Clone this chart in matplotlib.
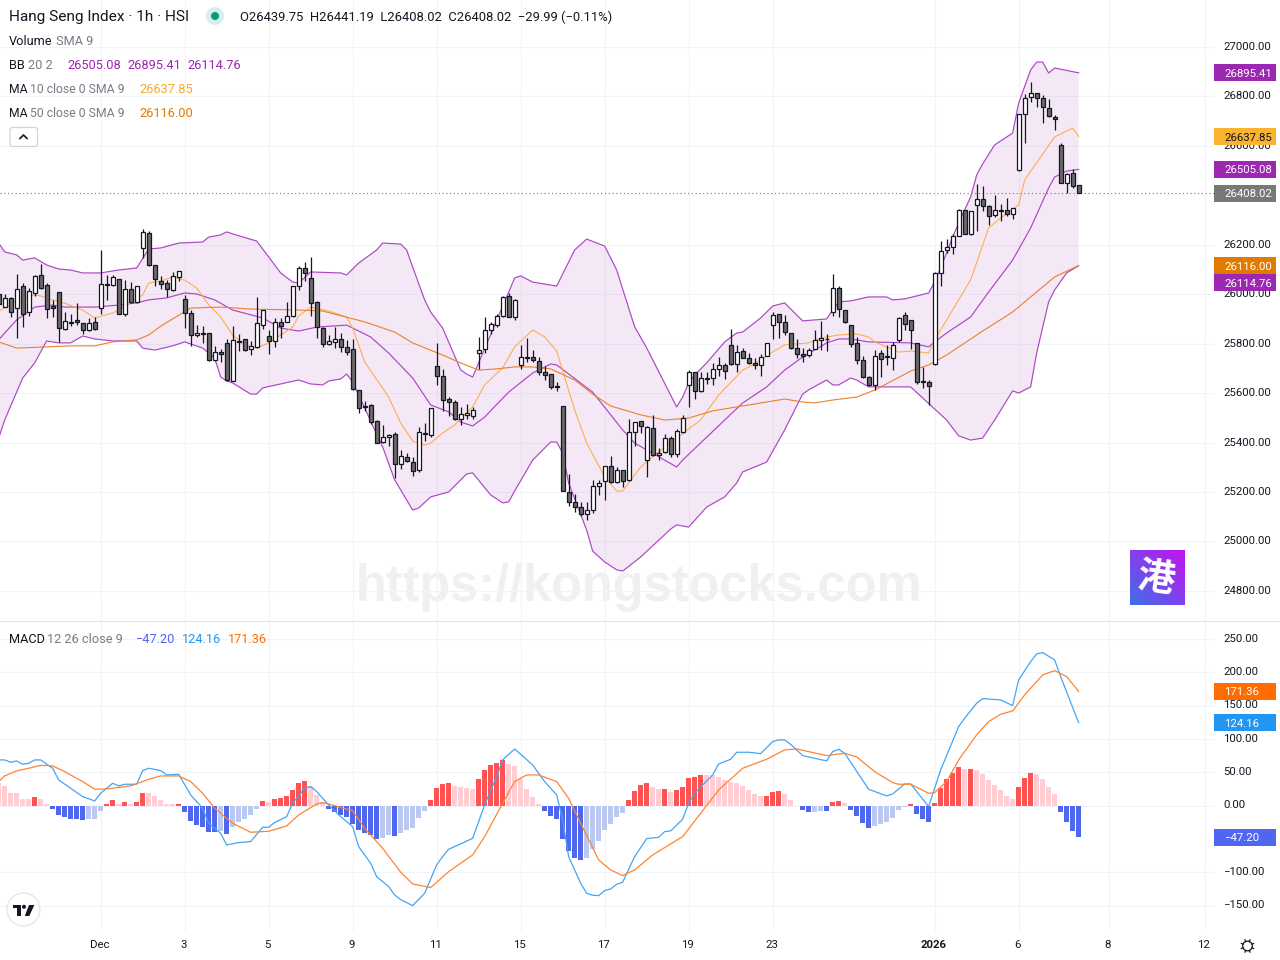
import matplotlib
matplotlib.use("Agg")
import matplotlib.pyplot as plt
import numpy as np
from matplotlib.patches import Rectangle, Circle, FancyBboxPatch, Polygon
from matplotlib.lines import Line2D
from matplotlib.transforms import Affine2D

# ---------- data ----------
opens = [
26000,25950,25983,25943,26032,25929,26003,26076,26036,25951,
26007,25861,25889,25894,25885,25857,25886,25943,26041,26038,
26060,25919,26020,25967,26185,26246,26117,26052,26044,26016,
26068,25979,25923,25834,25842,25842,25732,25765,25801,25648,
25812,25817,25777,25785,25877,25830,25809,25886,25886,25910,
26032,26105,26064,25967,25862,25797,25806,25818,25785,25777,
25611,25547,25551,25486,25401,25421,25434,25312,25340,25320,
25288,25438,25432,25709,25668,25575,25563,25494,25510,25506,
25761,25777,25854,25874,25911,25992,25907,25715,25745,25745,
25731,25684,25676,25628,25547,25199,25159,25138,25110,25126,
25223,25243,25304,25239,25288,25247,25442,25486,25328,25458,
25349,25361,25417,25353,25442,25632,25684,25607,25661,25660,
25696,25712,25793,25717,25769,25741,25721,25712,25749,25874,
25919,25886,25842,25781,25757,25753,25777,25814,25819,25927,
26024,25935,25874,25801,25732,25664,25634,25761,25750,25741,
25813,25914,25894,25801,25647,25643,25716,26084,26177,26189,
26234,26339,26242,26359,26384,26355,26319,26340,26339,26323,
26501,26727,26796,26812,26792,26752,26718,26602,26448,26489,
26439.75]
highs = [
26017,26001,25987,26080,26044,26024,26078,26121,26044,25976,
26007,25929,25920,25963,25885,25902,25906,26179,26078,26078,
26060,26057,26048,26034,26262,26256,26118,26074,26057,26088,
26094,25997,25936,25875,25871,25842,25790,25778,25819,25871,
25838,25819,25811,25989,25936,25855,25902,25905,25967,26032,
26115,26129,26149,25974,25869,25835,25866,25842,25815,25818,
25613,25567,25555,25491,25470,25434,25444,25370,25357,25340,
25462,25479,25539,25802,25696,25584,25571,25543,25555,25543,
25826,25907,25886,25919,25993,26004,25979,25793,25823,25773,
25745,25709,25678,25644,25547,25273,25192,25159,25161,25249,
25249,25304,25346,25300,25289,25495,25482,25486,25465,25510,
25377,25435,25427,25454,25510,25694,25684,25684,25687,25721,
25745,25721,25858,25793,25781,25761,25741,25757,25801,25927,
25920,25915,25842,25818,25781,25781,25854,25892,25838,26080,
26033,25936,25875,25825,25750,25668,25774,25774,25794,25805,
25906,25927,25894,25804,25704,25653,26088,26215,26223,26243,
26343,26340,26336,26444,26436,26359,26401,26365,26388,26347,
26730,26810,26857,26812,26805,26788,26723,26613,26489,26505,
26441.19]
lows = [
25943,25947,25909,25824,25869,25913,25993,26020,25905,25909,
25808,25855,25871,25875,25839,25851,25855,25919,25976,26033,
25919,25913,25963,25966,26148,26115,26034,26021,25987,26014,
26055,25865,25790,25825,25801,25731,25731,25727,25650,25648,
25772,25772,25755,25781,25861,25758,25788,25824,25886,25909,
26017,26055,25913,25824,25788,25795,25784,25768,25756,25614,
25521,25529,25475,25400,25400,25388,25258,25291,25320,25265,
25280,25408,25424,25634,25527,25509,25491,25471,25494,25497,
25698,25764,25838,25869,25909,25907,25895,25699,25727,25727,
25673,25651,25618,25610,25202,25145,25117,25101,25087,25114,
25188,25168,25238,25238,25222,25246,25384,25437,25262,25346,
25330,25357,25340,25343,25437,25545,25575,25606,25636,25634,
25671,25657,25715,25687,25741,25719,25699,25671,25749,25820,
25824,25836,25780,25743,25727,25745,25777,25773,25769,25913,
25907,25885,25788,25719,25660,25630,25612,25666,25715,25693,
25807,25855,25780,25635,25622,25553,25715,26034,26165,26162,
26234,26242,26238,26255,26338,26278,26313,26297,26317,26305,
26499,26613,26776,26758,26694,26715,26665,26448,26410,26428,
26408.02]
closes = [
25960,25983,25927,26020,25919,26012,26072,26024,25939,25943,
25862,25890,25882,25886,25854,25882,25858,26040,26039,26068,
25919,26020,25967,26032,26250,26117,26060,26040,26020,26072,
26092,25923,25834,25842,25838,25732,25765,25757,25652,25813,
25808,25773,25789,25882,25935,25809,25886,25870,25910,26032,
26105,26085,25963,25866,25797,25810,25818,25785,25765,25615,
25539,25543,25485,25400,25421,25432,25312,25345,25324,25284,
25442,25434,25539,25668,25571,25563,25494,25514,25518,25531,
25773,25854,25878,25911,25988,25907,25975,25745,25740,25733,
25684,25672,25624,25624,25203,25159,25138,25109,25126,25223,
25235,25304,25239,25288,25243,25442,25482,25466,25462,25349,
25357,25417,25353,25446,25498,25684,25607,25660,25659,25696,
25712,25688,25717,25765,25741,25721,25712,25745,25801,25915,
25886,25846,25781,25757,25752,25773,25814,25822,25817,26024,
25939,25886,25797,25732,25664,25631,25749,25737,25748,25793,
25902,25878,25854,25643,25645,25627,26084,26173,26189,26234,
26339,26242,26335,26384,26355,26315,26339,26338,26323,26347,
26727,26792,26812,26792,26756,26719,26707,26448,26487,26436,
26408.02]

upper_idx = [0,1,3,4,6,8,10,12,14,17,20,23,25,27,30,34,35,37,38,39,43,45,47,49,50,52,57,58,60,63,64,67,68,69,71,72,74,77,78,79,80,86,87,89,93,96,98,101,103,106,108,113,114,115,116,118,121,123,124,127,129,131,134,138,139,140,142,145,148,149,151,155,156,158,159,161,162,163,164,166,169,170,172,173,174,175,176,180]
upper_val = [26207,26171,26159,26138,26147,26118,26102,26098,26086,26086,26098,26106,26183,26187,26207,26211,26231,26240,26252,26244,26215,26151,26086,26049,26045,26090,26086,26078,26126,26179,26207,26203,26179,26110,25977,25928,25863,25694,25677,25665,25722,26066,26074,26049,26033,26179,26223,26195,26098,25868,25783,25544,25584,25641,25673,25722,25807,25843,25847,25904,25952,25965,25892,25900,25936,25969,25973,25989,25989,25977,25981,26005,26049,26167,26232,26341,26393,26482,26527,26604,26652,26773,26907,26939,26939,26895,26915,26895.41]
lower_idx = [0,1,4,6,8,10,12,14,16,19,23,24,26,29,31,34,36,37,38,39,42,43,44,50,52,54,55,57,58,59,64,66,69,70,72,75,78,79,82,84,85,86,89,92,93,94,95,98,99,101,103,104,107,109,112,113,115,118,121,123,124,128,131,134,135,138,139,140,142,143,145,152,158,160,162,164,166,169,170,172,173,175,176,178,180]
lower_val = [25418,25491,25661,25722,25811,25803,25803,25831,25819,25811,25811,25782,25774,25791,25807,25782,25742,25665,25649,25641,25596,25596,25621,25653,25637,25633,25649,25657,25677,25645,25382,25249,25127,25135,25180,25200,25273,25277,25188,25156,25160,25204,25329,25402,25402,25358,25236,25046,24961,24917,24885,24880,24937,24982,25050,25067,25058,25139,25180,25236,25281,25321,25451,25596,25613,25653,25633,25633,25661,25653,25625,25625,25491,25427,25410,25418,25491,25609,25600,25625,25762,25969,26017,26086,26114.76]
basis_idx = [0,1,3,6,9,11,16,20,23,25,28,31,33,36,39,44,47,50,53,58,62,65,69,72,75,77,79,81,85,89,92,93,99,104,106,113,114,121,124,128,131,134,138,140,142,145,152,155,156,158,162,165,169,172,175,176,178,180]
basis_val = [25815,25843,25896,25948,25956,25948,25948,25956,25965,25977,25985,26005,26001,25977,25936,25904,25863,25851,25867,25875,25827,25762,25661,25552,25524,25483,25467,25503,25604,25681,25718,25714,25604,25451,25398,25301,25329,25491,25560,25625,25693,25746,25803,25819,25819,25807,25803,25787,25807,25843,25908,26009,26138,26268,26430,26474,26498,26505.08]
ma10_idx = [0,2,3,6,7,9,11,14,16,19,20,24,25,27,29,31,33,35,37,39,41,43,45,49,50,52,55,58,59,61,65,67,69,71,72,74,76,79,81,84,86,89,91,93,96,98,101,103,104,107,110,112,115,117,120,124,126,129,131,135,137,140,143,145,146,150,152,155,156,162,165,167,170,171,176,179,180]
ma10_val = [25932,25957,25977,25997,25993,25977,25964,25936,25904,25924,25936,25997,26045,26053,26070,26057,26025,25957,25908,25835,25795,25782,25803,25867,25912,25948,25932,25908,25863,25726,25584,25479,25406,25390,25398,25439,25471,25544,25633,25702,25787,25855,25827,25770,25532,25398,25261,25204,25204,25301,25362,25398,25455,25491,25592,25693,25718,25766,25795,25803,25823,25835,25839,25827,25807,25766,25770,25762,25815,26058,26268,26308,26361,26462,26636,26672,26637.85]
ma50_idx = [0,3,7,12,16,19,23,25,27,29,32,37,42,50,54,61,66,69,74,77,80,83,86,89,92,96,99,102,107,111,115,119,124,127,131,134,136,139,143,146,152,155,158,164,169,176,180]
ma50_val = [25807,25782,25786,25791,25791,25807,25815,25835,25871,25900,25944,25948,25940,25936,25932,25888,25847,25803,25754,25722,25693,25698,25706,25706,25698,25653,25596,25548,25512,25491,25499,25528,25548,25560,25576,25564,25560,25572,25584,25612,25689,25714,25754,25851,25928,26070,26116.00]

hist = [
34.5,29.5,19,19,10,10,13,10,2.5,-5,
-14,-17,-20,-20.5,-21.5,-20,-20,-8,2.5,8.5,
2.5,5.5,2.5,5.5,19,19,14.5,8.5,2.5,2.5,
3,-9.5,-23,-29,-32,-39.5,-40,-38,-42.5,-32,
-24.5,-20,-14,-5,7,5.5,10,11.5,14.5,23.5,
34,37,29.5,16,5.5,-5,-9.5,-14,-17,-27.5,
-36.5,-41,-44,-50,-48.5,-44,-45.5,-41,-36.5,-33.5,
-18.5,-8,8.5,26.5,32.5,34,29.5,28,26.5,25,
40,53.5,61,64,68.5,62.5,59.5,40,25,13,
2.5,-8,-15.5,-20,-50,-68,-78.5,-81.5,-78.5,-65,
-53,-36.5,-27.5,-17,-11,8.5,22,31,34,28,
25,25.5,20.5,23.5,28,41.5,43,46,46,46,
43,38.5,35.5,34,29.5,23.5,17,14.5,15,20.5,
22,17,8.5,-1,-6.5,-9.5,-9.5,-8,-8.5,5.5,
7,4,-6.5,-15.5,-26,-33.5,-30.5,-27.5,-24.5,-18.5,
-6.5,-2,2.5,-12.5,-20,-24.5,4,26.5,40,49,
58,55,55.5,53.5,47.5,38.5,31,23.5,14.5,10,
28,41.5,49,47.5,40,28,17.5,-9.5,-24.5,-38,
-47.2]
macd_idx = [0,1,2,3,4,5,6,7,9,10,12,14,16,17,19,20,21,23,24,25,27,28,30,32,34,35,37,38,40,42,44,45,46,48,49,51,52,53,55,57,59,60,62,63,65,66,67,69,71,73,74,75,77,79,81,83,84,86,89,91,93,94,95,97,98,99,100,101,102,103,104,106,108,110,111,112,114,115,116,119,120,122,123,125,127,129,130,131,132,134,138,139,140,141,145,148,149,151,152,155,157,160,161,163,164,167,169,170,172,173,174,176,177,180]
macd_val = [68.5,68.5,65,67,62,63.5,68.5,68.5,56,38.5,26,13.5,7,18.5,33.5,29.5,32,32,52.5,56,52.5,46,47,16,-4,-26.5,-41.5,-59,-55.5,-54,-32.5,-32.5,-25.5,-16.5,3.5,26,28.5,21,1,-16.5,-31.5,-61.5,-86.5,-106.5,-121.5,-134,-141,-150,-131.5,-89,-76.5,-65.5,-57.5,-49,1,43.5,68.5,85,61,36,16,-21.5,-76.5,-116.5,-131.5,-134.5,-135,-127.5,-125,-118,-115,-76.5,-49.5,-47.5,-39,-38,-20.5,3.5,18.5,46,62.5,69.5,80,80,78,96,98.5,98.5,92,75,67,81,84.5,78.5,24.5,14.5,17.5,32.5,32.5,-1.5,53.5,118.5,131,153.5,160.5,158.5,150,188.5,216,227.5,229.5,218.5,193.5,124.16]
signal_idx = [0,1,3,5,7,9,11,14,16,18,22,25,27,30,32,34,36,39,42,45,48,50,53,54,56,59,61,64,67,69,72,75,79,81,84,86,88,90,93,95,97,100,102,104,106,109,114,117,120,124,128,131,133,138,141,143,146,149,150,152,155,156,158,160,163,165,167,169,171,174,176,178,180]
signal_val = [36,44.5,52,56,60.5,59.5,51,36,24.5,25,29.5,39.5,44.5,44.5,36,18.5,-4,-26.5,-40,-38.5,-30.5,-14,2.5,4.5,0,-8,-34,-64,-100,-117.5,-123,-99,-74,-46.5,3.5,36,46,46,36,11,-26.5,-81.5,-96.5,-105,-96.5,-74,-46.5,-11.5,23.5,56,69.5,83.5,85,75,78.5,73,51,34.5,32,32,18.5,19.5,36,68.5,106,126,137,142,166,196,202.5,193.5,171.36]

price_ticks = [27000,26800,26600,26200,26000,25800,25600,25400,25200,25000,24800]
macd_ticks = [250,200,150,100,50,0,-100,-150]
time_tick_idx = [17,31,45,59,73,87,101,115,129,156,170,185,201]
time_tick_labels = ["Dec","3","5","9","11","15","17","19","23","2026","6","8","12"]

last_close = 26408.02

# price scale tags: value, text, fill, text colour, pixel shift
price_tags = [
    (26895.41, "26895.41", "#9C27B0", "white", 0),
    (26637.85, "26637.85", "#F9B32F", "#131722", 0),
    (26505.08, "26505.08", "#9C27B0", "white", 0),
    (26408.02, "26408.02", "#787878", "white", 0),
    (26116.00, "26116.00", "#E07B00", "white", 0),
    (26114.76, "26114.76", "#9C27B0", "white", 17),
]
macd_tags = [
    (171.36, "171.36", "#FF6D00", "white"),
    (124.16, "124.16", "#2196F3", "white"),
    (-47.20, "\u221247.20", "#4F66EE", "white"),
]

# ---------- layout ----------
W, H = 1280, 960
PANE_R, MAIN_B, SUB_T, SUB_B = 1214, 621, 622, 931
FONT = "Roboto"
plt.rcParams["font.family"] = [FONT, "DejaVu Sans"]
TXT = "#131722"
GRAY = "#787B86"
GRID = "#F0F3FA"
AXIS_SIZE = 8.2

fig = plt.figure(figsize=(W / 100, H / 100), dpi=100, facecolor="white")
PX = Affine2D().scale(1 / W, -1 / H).translate(0, 1) + fig.transFigure

ax = fig.add_axes([0, 1 - MAIN_B / H, PANE_R / W, MAIN_B / H])
axm = fig.add_axes([0, 1 - SUB_B / H, PANE_R / W, (SUB_B - SUB_T) / H])

xlim = (0.222, 202.56)
for a in (ax, axm):
    a.set_xlim(*xlim)
    a.set_xticks(time_tick_idx)
    a.grid(True, color=GRID, lw=0.8, zorder=0)
    a.set_axisbelow(True)
    for s in a.spines.values():
        s.set_visible(False)
    a.yaxis.tick_right()
    a.tick_params(axis="both", length=0, labelsize=AXIS_SIZE, labelcolor=TXT)
    a.tick_params(axis="y", pad=6.6)
ax.set_ylim(24678.1, 27190.1)
axm.set_ylim(-188.1, 275.4)

ax.set_yticks(price_ticks)
ax.set_yticklabels([f"{v:.2f}" for v in price_ticks])
ax.tick_params(axis="x", labelbottom=False)
axm.set_yticks(macd_ticks)
axm.set_yticklabels([f"{v:.2f}".replace("-", "\u2212") for v in macd_ticks])
axm.set_xticklabels(time_tick_labels)
axm.tick_params(axis="x", pad=6.5)
for lab in axm.get_xticklabels():
    lab.set_transform(lab.get_transform() + Affine2D().translate(-1, 0))
    if lab.get_text() == "2026":
        lab.set_fontweight("bold")
for a, lift in ((ax, 1.0), (axm, 1.3)):
    for lab in a.get_yticklabels():
        lab.set_transform(lab.get_transform() + Affine2D().translate(0, lift))

# watermark
ax.text(639, 587, "https://kongstocks.com", transform=PX, ha="center", va="center",
        family="Liberation Sans", fontweight="bold", fontsize=36.4, color="#F0F0F2", zorder=0.5)

# Bollinger band
poly_x = list(upper_idx) + list(lower_idx)[::-1]
poly_y = list(upper_val) + list(lower_val)[::-1]
ax.fill(poly_x, poly_y, color="#9C27B0", alpha=0.1, lw=0, zorder=1)
ax.plot(upper_idx, upper_val, color="#AB47C4", lw=0.85, zorder=2)
ax.plot(lower_idx, lower_val, color="#AB47C4", lw=0.85, zorder=2)
ax.plot(basis_idx, basis_val, color="#AB47C4", lw=0.85, zorder=2)
ax.plot(ma10_idx, ma10_val, color="#FBB04E", lw=0.8, zorder=2.1)
ax.plot(ma50_idx, ma50_val, color="#E8822A", lw=0.8, zorder=2.2)

# last price line
ax.axhline(last_close, color="#787878", lw=0.8, ls=(0, (1, 2.4)), zorder=2.3)

# candles
idx = np.arange(len(opens))
o, hi, lo, c = map(np.array, (opens, highs, lows, closes))
body_low = np.minimum(o, c)
body_h = np.abs(c - o)
fills = ["white" if cc > oo else "#6A6A6A" for oo, cc in zip(o, c)]
ax.vlines(idx, lo, hi, color="#131722", lw=0.9, zorder=3)
ax.bar(idx, body_h, bottom=body_low, width=0.68, color=fills, edgecolor="#131722",
       linewidth=0.9, zorder=4)

# MACD
cols = []
for i, v in enumerate(hist):
    prev = hist[i - 1] if i else v
    if v >= 0:
        cols.append("#FF5252" if v > prev else "#FFCDD2")
    else:
        cols.append("#4F66EE" if v < prev else "#BBC8F2")
axm.bar(np.arange(len(hist)), hist, width=0.83, color=cols, lw=0, zorder=2)
axm.plot(macd_idx, macd_val, color="#42A5F5", lw=0.9, zorder=3)
axm.plot(signal_idx, signal_val, color="#FF8430", lw=0.9, zorder=3.1)

# pane separator
fig.add_artist(Line2D([0, W], [621.2, 621.2], transform=PX, color="#E0E3EB", lw=0.8))

# scale tags
def tag(axis, value, label, fill, tcol, shift=0):
    ypx = H - axis.transData.transform((0, value))[1] + shift
    fig.add_artist(Rectangle((1214, ypx - 8.5), 62, 17, transform=PX, facecolor=fill,
                             edgecolor="none", zorder=5))
    fig.text(1224, ypx, label, transform=PX, ha="left", va="center_baseline",
             color=tcol, fontsize=AXIS_SIZE, zorder=6)

for v, s, f, t, sh in price_tags:
    tag(ax, v, s, f, t, sh)
for v, s, f, t in macd_tags:
    tag(axm, v, s, f, t)

# legend text
def txt(x, y, s, color=TXT, size=9.2, **kw):
    fig.text(x, y, s, transform=PX, color=color, fontsize=size, va="center_baseline", ha="left", zorder=6, **kw)

txt(9, 16, "Hang Seng Index \u00b7 1h \u00b7 HSI", size=11.1)
fig.add_artist(Circle((215, 16), 9, transform=PX, facecolor="#D6EFEA", edgecolor="none", zorder=5))
fig.add_artist(Circle((215, 16), 4, transform=PX, facecolor="#089981", edgecolor="none", zorder=6))
txt(240, 16, "O26439.75  H26441.19  L26408.02  C26408.02  \u221229.99 (\u22120.11%)", size=9.35)
txt(9, 40, "Volume")
txt(56, 40, "SMA 9", GRAY)
txt(9, 64, "BB")
txt(28, 64, "20 2", GRAY)
for x, s in zip((67, 127, 187), ("26505.08", "26895.41", "26114.76")):
    txt(x, 64, s, "#9C27B0")
txt(9, 88, "MA", size=8.7)
txt(30, 88, "10 close 0 SMA 9", GRAY, size=8.8)
txt(139, 88, "26637.85", "#F9A82B")
txt(9, 112, "MA", size=8.7)
txt(30, 112, "50 close 0 SMA 9", GRAY, size=8.8)
txt(139, 112, "26116.00", "#E07B00")
txt(9, 638, "MACD")
txt(47, 638, "12 26 close 9", GRAY)
txt(136, 638, "\u221247.20", "#4F66EE")
txt(182, 638, "124.16", "#2196F3")
txt(228, 638, "171.36", "#FF6D00")

# collapse button
fig.add_artist(FancyBboxPatch((10, 127.5), 27.5, 19, boxstyle="round,pad=0,rounding_size=2.5", transform=PX,
                              facecolor="white", edgecolor="#D1D4DC", lw=0.9, zorder=5))
fig.add_artist(Line2D([20, 23.5, 27], [138.5, 135, 138.5], transform=PX, color=TXT, lw=1.2, zorder=6))

# logo tile with colour ramp
logo = fig.add_axes([1130 / W, 1 - 605 / H, 55 / W, 55 / H], zorder=4)
gx, gy = np.meshgrid(np.linspace(0, 1, 60), np.linspace(0, 1, 60))
ramp = (gx + (1 - gy)) / 2
start, end = np.array([62, 112, 232]), np.array([196, 18, 238])
logo.imshow((start + (end - start) * ramp[..., None]) / 255, aspect="auto")
logo.axis("off")
fig.text(1157, 578, "\u6e2f", transform=PX, ha="center", va="center", color="white", fontsize=27,
         family=["Noto Sans CJK SC", "DejaVu Sans"], fontweight="bold", zorder=6, rotation=-8)

# TradingView badge
fig.add_artist(Circle((23.5, 909.5), 16.5, transform=PX, facecolor="white", edgecolor="#E6E7EA", lw=1.0, zorder=5))
fig.add_artist(Polygon([(12.8, 905), (20.8, 905), (20.8, 916), (16.7, 916), (16.7, 908.4), (12.8, 908.4)],
                       transform=PX, facecolor=TXT, edgecolor="none", zorder=6))
fig.add_artist(Circle((24, 906.8), 2, transform=PX, facecolor=TXT, edgecolor="none", zorder=6))
fig.add_artist(Polygon([(29, 905), (34.3, 905), (29.3, 916), (24.8, 916)], transform=PX,
                       facecolor=TXT, edgecolor="none", zorder=6))

# settings gear
fig.add_artist(Circle((1247.5, 946), 4.8, transform=PX, facecolor="white", edgecolor=TXT, lw=0.9, zorder=6))
for ang in np.deg2rad(np.arange(0, 360, 45) + 22.5):
    fig.add_artist(Line2D([1247.5 + 4.8 * np.cos(ang), 1247.5 + 6.6 * np.cos(ang)],
                          [946 + 4.8 * np.sin(ang), 946 + 6.6 * np.sin(ang)],
                          transform=PX, color=TXT, lw=0.9, zorder=6))

fig.savefig("out.png", dpi=100, facecolor="white")
